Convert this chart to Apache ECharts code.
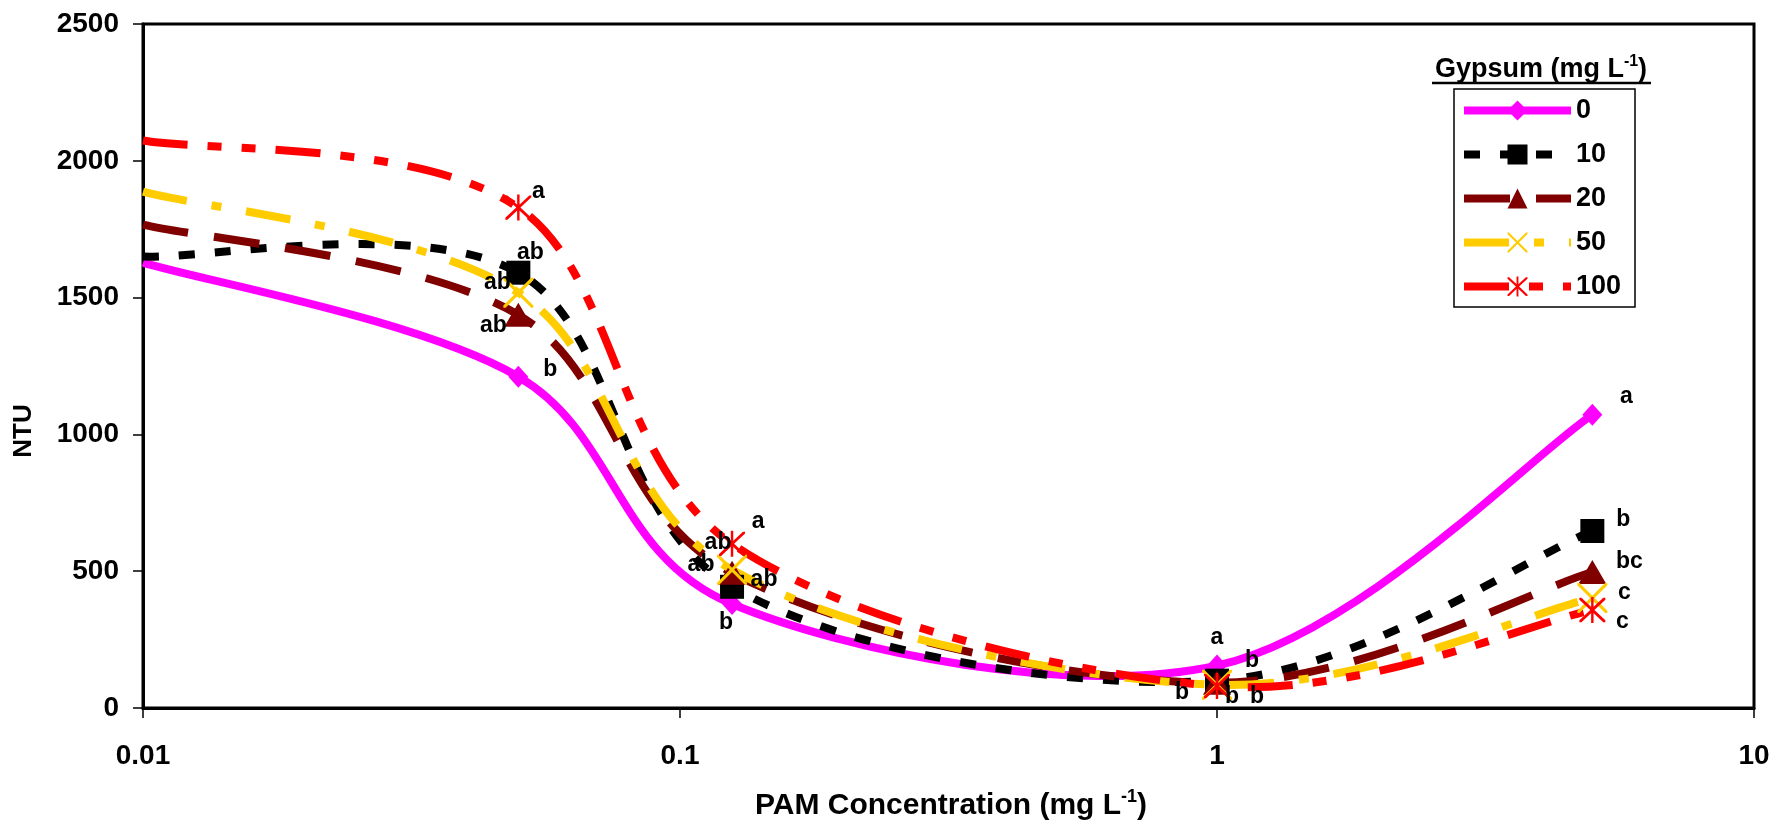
<!DOCTYPE html>
<html>
<head>
<meta charset="utf-8">
<script src="https://cdn.jsdelivr.net/npm/echarts@6/dist/echarts.min.js"></script>
<style>
html,body{margin:0;padding:0;background:#fff;}
#chart{width:1773px;height:823px;}
</style>
</head>
<body>
<div id="chart"></div>
<script>
// ---- data ----
const pam = [0.01, 0.05, 0.125, 1, 5];
const gypsumLevels = ['0', '10', '20', '50', '100'];
const ntu0   = [1628, 1211, 380, 155, 1072];
const ntu10  = [1650, 1591, 443, 100, 647];
const ntu20  = [1767, 1437, 494, 92, 497];
const ntu50  = [1887, 1518, 505, 85, 402];
const ntu100 = [2074, 1829, 600, 80, 358];
const sig0   = ['', 'b', 'b', 'a', 'a'];
const sig10  = ['', 'ab', 'ab', 'b', 'b'];
const sig20  = ['', 'ab', 'ab', 'b', 'bc'];
const sig50  = ['', 'ab', 'ab', 'b', 'c'];
const sig100 = ['', 'a', 'a', 'b', 'c'];
const yTicks = [0, 500, 1000, 1500, 2000, 2500];

// ---- styles ----
const FONT = '"Liberation Sans", Arial, sans-serif';
const X_PATH = 'path://M0,0 L2.2,0 L15,12.8 L27.8,0 L30,0 L30,2.2 L17.2,15 L30,27.8 L30,30 L27.8,30 L15,17.2 L2.2,30 L0,30 L0,27.8 L12.8,15 L0,2.2 Z';
const STAR_PATH = 'path://M0,0 L2.4,0 L15,12.6 L27.6,0 L30,0 L30,2.4 L17.4,15 L30,27.6 L30,30 L27.6,30 L15,17.4 L2.4,30 L0,30 L0,27.6 L12.6,15 L0,2.4 Z M13.6,-1 L16.4,-1 L16.4,31 L13.6,31 Z';

const styles = [
  {color:'#FF00FF', dash:'solid', symbol:'diamond', size:[20,22],
   offs:[null,[32,-7],[-6,19],[0,-28],[34,-18]]},
  {color:'#000000', dash:[16,20], symbol:'rect', size:[24,24],
   offs:[null,[12,-20],[32,-7],[35,-20],[31,-11]]},
  {color:'#800000', dash:[46,26], symbol:'triangle', size:[28,24],
   offs:[null,[-25,11],[-31,-8],[-35,10],[37,-10]]},
  {color:'#FFCC00', dash:[45,25,10,25], symbol:X_PATH, size:[30,30],
   offs:[null,[-21,-10],[-14,-27],[15,12],[32,-5]]},
  {color:'#FF0000', dash:[45,20,14,20,14,20], symbol:STAR_PATH, size:[26,26],
   offs:[null,[20,-16],[26,-22],[40,11],[30,12]]}
];
const LINE_W = 8;
const values = [ntu0, ntu10, ntu20, ntu50, ntu100];
const sigs = [sig0, sig10, sig20, sig50, sig100];

// Excel-style smoothed curve (Bezier, control points at 1/6 of neighbour chord),
// built from the data mapped through the chart's own axes.
function smoothPath(pts) {
  let d = 'M' + pts[0][0] + ',' + pts[0][1];
  for (let i = 0; i < pts.length - 1; i++) {
    const p0 = pts[i - 1] || pts[i];
    const p1 = pts[i];
    const p2 = pts[i + 1];
    const p3 = pts[i + 2] || pts[i + 1];
    const c1x = p1[0] + (p2[0] - p0[0]) / 6, c1y = p1[1] + (p2[1] - p0[1]) / 6;
    const c2x = p2[0] - (p3[0] - p1[0]) / 6, c2y = p2[1] - (p3[1] - p1[1]) / 6;
    d += ' C' + c1x + ',' + c1y + ' ' + c2x + ',' + c2y + ' ' + p2[0] + ',' + p2[1];
  }
  return d;
}

const curveSeries = values.map((vals, s) => {
  const st = styles[s];
  return {
    name: 'curve' + gypsumLevels[s],
    type: 'custom',
    coordinateSystem: 'cartesian2d',
    z: 2,
    silent: true,
    data: vals.map((v, i) => [pam[i], v]),
    renderItem: function (params, api) {
      if (params.dataIndex !== 0) return null;
      const pts = vals.map((v, i) => api.coord([pam[i], v]));
      return {
        type: 'path',
        shape: {pathData: smoothPath(pts)},
        style: {fill: 'none', stroke: st.color, lineWidth: LINE_W,
                lineDash: Array.isArray(st.dash) ? st.dash : null, lineJoin: 'round'}
      };
    }
  };
});

const markerSeries = values.map((vals, s) => {
  const st = styles[s];
  return {
    name: gypsumLevels[s],
    type: 'line',
    z: 3,
    symbol: st.symbol,
    symbolSize: st.size,
    lineStyle: {color: st.color, width: LINE_W, type: st.dash, opacity: 0},
    itemStyle: {color: st.color},
    emphasis: {disabled: true},
    data: vals.map((v, i) => {
      const item = {value: [pam[i], v]};
      if (i === 0) item.symbol = 'none';
      if (sigs[s][i]) {
        item.label = {
          show: true, formatter: sigs[s][i], position: 'inside',
          offset: st.offs[i], color: '#000', fontSize: 23,
          fontWeight: 'bold', fontFamily: FONT
        };
      }
      return item;
    })
  };
});

const legendData = gypsumLevels.map((name, s) => ({
  name: name,
  lineStyle: {opacity: 1, width: LINE_W, color: styles[s].color, type: styles[s].dash}
}));

const chart = echarts.init(document.getElementById('chart'), null, {renderer: 'canvas'});
chart.setOption({
  animation: false,
  backgroundColor: '#fff',
  grid: {left: 143, right: 19, top: 24, bottom: 115, show: true,
         borderColor: '#000', borderWidth: 3, containLabel: false},
  xAxis: {
    type: 'log', logBase: 10, min: 0.01, max: 10,
    axisLine: {show: true, lineStyle: {color: '#000', width: 3}},
    axisTick: {show: true, inside: false, length: 10, lineStyle: {color: '#000', width: 1.5}},
    minorTick: {show: false},
    splitLine: {show: false},
    axisLabel: {fontSize: 28, fontWeight: 'bold', color: '#000', fontFamily: FONT,
                margin: 34, showMinLabel: true, showMaxLabel: true}
  },
  yAxis: {
    type: 'value', min: yTicks[0], max: yTicks[yTicks.length - 1], interval: 500,
    axisLine: {show: true, lineStyle: {color: '#000', width: 3}},
    axisTick: {show: true, inside: false, length: 10, lineStyle: {color: '#000', width: 1.5}},
    splitLine: {show: false},
    axisLabel: {fontSize: 28, fontWeight: 'bold', color: '#000', fontFamily: FONT, margin: 24,
                formatter: v => String(v)}
  },
  legend: {
    orient: 'vertical', left: 1460, top: 97, padding: 0,
    itemWidth: 107, itemHeight: 25, itemGap: 17,
    data: legendData,
    lineStyle: {opacity: 1, width: LINE_W},
    textStyle: {fontSize: 27, fontWeight: 'bold', color: '#000', fontFamily: FONT, lineHeight: 25},
    selectedMode: false
  },
  graphic: [
    {type: 'rect', shape: {x: 1454, y: 89, width: 181, height: 218},
     style: {fill: 'none', stroke: '#000', lineWidth: 1.5}, z: 10},
    {type: 'text', x: 1541, y: 70,
     style: {text: 'Gypsum (mg L{sup|-1})', fontSize: 27, fontWeight: 'bold', fontFamily: FONT,
             fill: '#000', align: 'center', verticalAlign: 'middle',
             rich: {sup: {fontSize: 16, fontWeight: 'bold', fontFamily: FONT, padding: [0, 0, 16, 0]}}},
     z: 10},
    {type: 'line', shape: {x1: 1432, y1: 83, x2: 1651, y2: 83},
     style: {stroke: '#000', lineWidth: 2.5}, z: 10},
    {type: 'text', x: 951, y: 806,
     style: {text: 'PAM Concentration (mg L{sup|-1})', fontSize: 30, fontWeight: 'bold', fontFamily: FONT,
             fill: '#000', align: 'center', verticalAlign: 'middle',
             rich: {sup: {fontSize: 18, fontWeight: 'bold', fontFamily: FONT, padding: [0, 0, 18, 0]}}},
     z: 10},
    {type: 'text', x: 24, y: 431, rotation: Math.PI / 2,
     style: {text: 'NTU', fontSize: 26, fontWeight: 'bold', fontFamily: FONT,
             fill: '#000', align: 'center', verticalAlign: 'middle'}, z: 10}
  ],
  series: curveSeries.concat(markerSeries)
});
</script>
</body>
</html>
